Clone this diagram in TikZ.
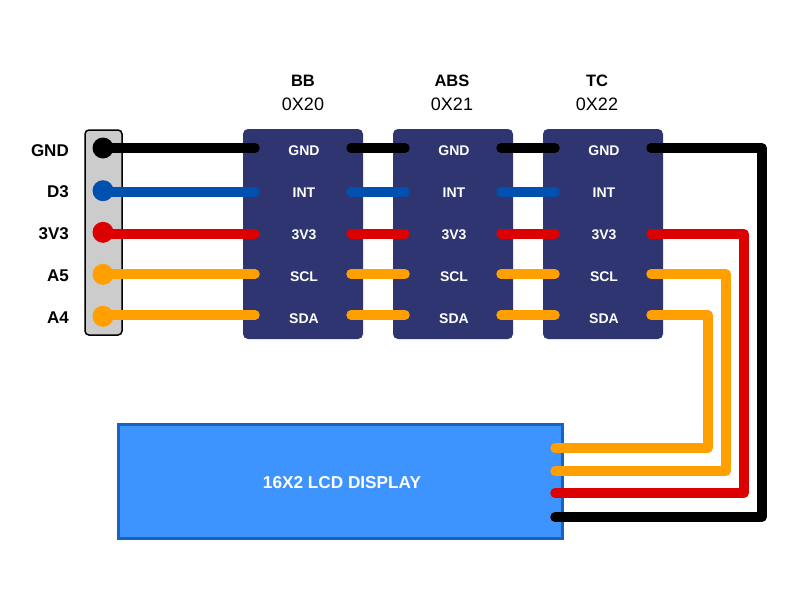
\documentclass[tikz,border=0pt]{standalone}
\usepackage{fontspec}
\setmainfont{Liberation Sans}
\definecolor{modblue}{HTML}{2F3570}
\definecolor{lcdblue}{HTML}{3D94FF}
\definecolor{lcdedge}{HTML}{1565C0}
\definecolor{stripgrey}{HTML}{CCCCCC}
\definecolor{wireblue}{HTML}{0050B0}
\definecolor{wirered}{HTML}{DD0000}
\definecolor{wireorange}{HTML}{FFA000}
\tikzset{
	modbox/.style={fill=modblue,rounded corners=5pt,minimum width=120pt,minimum height=210pt,inner sep=0pt},
	wire/.style={line width=9.5pt,line cap=round,line join=round},
	pinhead/.style={circle,minimum size=21pt,inner sep=0pt},
	pintext/.style={text=white,font=\fontsize{14}{14}\selectfont\bfseries,anchor=base,inner sep=0pt},
	headtext/.style={font=\fontsize{17}{17}\selectfont\bfseries,anchor=base east,inner sep=0pt},
	title/.style={font=\fontsize{18}{18}\selectfont,anchor=base,inner sep=0pt},
}
\begin{document}
\begin{tikzpicture}[x=1pt,y=-1pt]
	\useasboundingbox (0,0) rectangle (807,600);

	% header strip
	\node[draw=black,line width=1.5pt,fill=stripgrey,rounded corners=4pt,minimum width=37pt,minimum height=205pt,inner sep=0pt] (strip) at (103.5,232.5) {};
	\foreach \pin/\hy/\ly/\col/\txt in {
		GND/148/156/black/GND,
		DTH/190.7/197/wireblue/D3,
		VCC/232.3/239/wirered/3V3,
		SCL/274.3/281/wireorange/A5,
		SDA/316.3/323/wireorange/A4} {
		\node[pinhead,fill=\col] (h\pin) at (103,\hy) {};
		\node[headtext] (t\pin) at (69,\ly) {\txt};
	}

	% lcd
	\node[draw=lcdedge,line width=2.6pt,fill=lcdblue,minimum width=444pt,minimum height=114pt,inner sep=0pt] (lcd) at (340.5,481.5) {};
	\node[text=white,font=\fontsize{17.2}{17.2}\selectfont\bfseries,anchor=base,inner sep=0pt] (lcdtext) at (342,488.5) {16X2 LCD DISPLAY};

	% modules and their pin coordinates
	\foreach \mod/\mx/\tx/\mname/\maddr in {bb/303/303/BB/0X20,abs/453/452/ABS/0X21,tc/603/597/TC/0X22} {
		\node[modbox] (\mod) at (\mx,234) {};
		\node[title] (\mod name) at (\tx,86.7) {\fontsize{16.5}{16.5}\selectfont\bfseries\mname};
		\node[title] (\mod addr) at (\tx,110.7) {\maddr};
		\foreach \pin/\wy in {GND/148,DTH/192,VCC/234,SCL/274,SDA/315} {
			\coordinate (\mod\pin l) at (\mx-48,\wy);
			\coordinate (\mod\pin r) at (\mx+48,\wy);
		}
	}

	% wires along the bus
	\foreach \pin/\wy/\col in {GND/148/black,DTH/192/wireblue,VCC/234/wirered,SCL/274/wireorange,SDA/315/wireorange} {
		\coordinate (s\pin) at (103,\wy);
		\draw[wire,draw=\col] (s\pin) -- (bb\pin l);
		\draw[wire,draw=\col] (bb\pin r) -- (abs\pin l);
		\draw[wire,draw=\col] (abs\pin r) -- (tc\pin l);
	}

	% pin labels
	\foreach \mod/\mx in {bb/303,abs/453,tc/603} {
		\foreach \pin/\ly/\txt in {GND/155.5/GND,DTH/197.5/INT,VCC/239.5/3V3,SCL/281.5/SCL,SDA/323.5/SDA} {
			\node[pintext] (\mod\pin t) at (\mx+1,\ly) {\txt};
		}
	}

	% wires down to the lcd
	\foreach \pin/\vx/\wy/\col in {SDA/708/448/wireorange,SCL/726/471/wireorange,VCC/744/493/wirered,GND/762/517/black} {
		\coordinate (lcd\pin) at (555,\wy);
		\draw[wire,draw=\col] (tc\pin r) -| (\vx,\wy) -- (lcd\pin);
	}
\end{tikzpicture}
\end{document}
